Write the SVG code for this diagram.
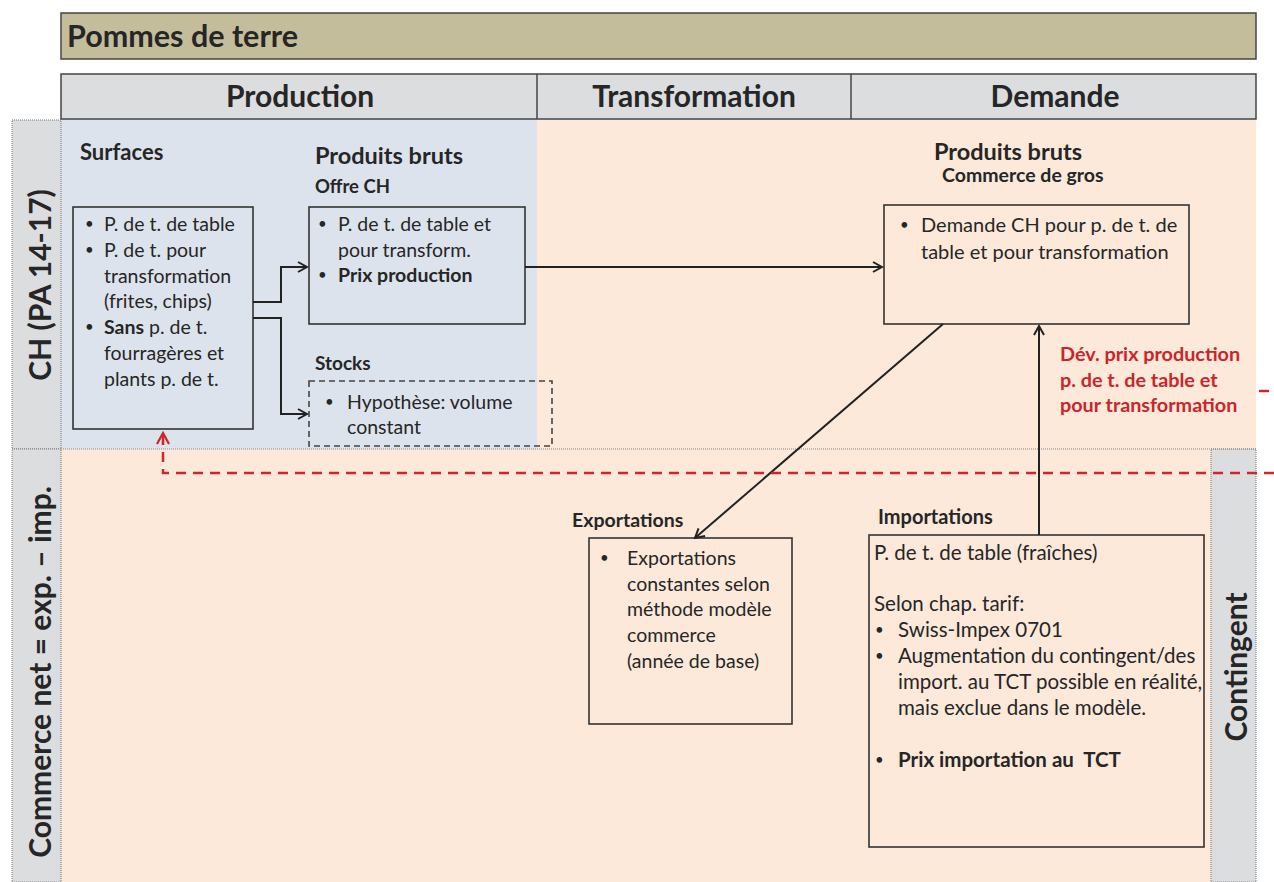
<svg xmlns="http://www.w3.org/2000/svg" width="1274" height="882" viewBox="0 0 1274 882">
  <defs>
    <marker id="arr" markerWidth="12" markerHeight="12" refX="10" refY="6" orient="auto" markerUnits="userSpaceOnUse">
      <path d="M1,1 L10,6 L1,11" fill="none" stroke="#222" stroke-width="2"/>
    </marker>
    <marker id="arrRed" markerWidth="14" markerHeight="14" refX="12" refY="7" orient="auto" markerUnits="userSpaceOnUse">
      <path d="M1,1 L12,7 L1,13" fill="none" stroke="#d0252b" stroke-width="2.2"/>
    </marker>
    <style>
      text { font-family: Lato, "Liberation Sans", sans-serif; fill: #262626; }
      .h1 { font-size: 30.5px; font-weight: bold; }
      .hd { font-size: 30px; font-weight: bold; text-anchor: middle; }
      .side { font-size: 30px; font-weight: bold; text-anchor: middle; }
      .lbl { font-size: 22px; font-weight: bold; }
      .sub { font-size: 19.5px; font-weight: bold; }
      .t { font-size: 19.5px; }
      .b { font-weight: bold; }
      .bu { font-size: 15px; }
      .red { fill: #c8262c; font-size: 19.8px; font-weight: bold; }
      .box { fill: none; stroke: #333; stroke-width: 1.6; }
      .dbox { fill: none; stroke: #444; stroke-width: 1.6; stroke-dasharray: 6 4; }
      .band { fill: #dcdddf; stroke: #777; stroke-width: 1; stroke-dasharray: 1 1; }
      .con { fill: none; stroke: #222; stroke-width: 2; }
      .rcon { fill: none; stroke: #d0252b; stroke-width: 2.5; stroke-dasharray: 10 7; }
    </style>
  </defs>

  <rect width="1274" height="882" fill="#ffffff"/>

  <!-- background regions -->
  <rect x="61" y="119" width="476" height="330" fill="#dde3ec"/>
  <rect x="537" y="119" width="719" height="330" fill="#fce9da"/>
  <rect x="61" y="449" width="1150" height="433" fill="#fce9da"/>

  <!-- side bands -->
  <g id="band-ch">
    <rect class="band" x="12" y="120" width="49" height="329"/>
    <text class="side" transform="translate(51,285) rotate(-90)">CH (PA 14-17)</text>
  </g>
  <g id="band-commerce">
    <rect class="band" x="12" y="449" width="49" height="433"/>
    <text class="side" transform="translate(51,672) rotate(-90)">Commerce net = exp. – imp.</text>
  </g>
  <g id="band-contingent">
    <rect class="band" x="1211" y="449" width="45" height="433"/>
    <text class="side" transform="translate(1247,667) rotate(-90)">Contingent</text>
  </g>
  <line x1="61" y1="449" x2="1256" y2="449" stroke="#888" stroke-width="1" stroke-dasharray="1 1"/>

  <!-- title -->
  <g id="title">
    <rect x="61" y="13" width="1195" height="46" fill="#c4bd9b" stroke="#444" stroke-width="1.5"/>
    <text class="h1" x="67" y="47">Pommes de terre</text>
  </g>

  <!-- column headers -->
  <g id="headers">
    <rect x="61" y="74" width="1195" height="45" fill="#dcdddf" stroke="#444" stroke-width="1.5"/>
    <line x1="537" y1="74" x2="537" y2="119" stroke="#444" stroke-width="1.5"/>
    <line x1="851" y1="74" x2="851" y2="119" stroke="#444" stroke-width="1.5"/>
    <text class="hd" x="300" y="107">Production</text>
    <text class="hd" x="694" y="107">Transformation</text>
    <text class="hd" x="1055" y="107">Demande</text>
  </g>

  <!-- Surfaces -->
  <g id="surfaces">
    <text class="lbl" x="80" y="160">Surfaces</text>
    <rect class="box" x="73" y="207" width="180" height="222"/>
    <g class="t">
      <text class="bu" x="85" y="229">•</text><text x="104" y="231">P. de t. de table</text>
      <text class="bu" x="85" y="255">•</text><text x="104" y="257">P. de t. pour</text>
      <text x="104" y="283">transformation</text>
      <text x="104" y="308">(frites, chips)</text>
      <text class="bu" x="85" y="332">•</text><text x="104" y="334"><tspan class="b">Sans</tspan> p. de t.</text>
      <text x="104" y="360">fourragères et</text>
      <text x="104" y="386">plants p. de t.</text>
    </g>
  </g>

  <!-- Offre CH -->
  <g id="offre-ch">
    <text class="lbl" x="315" y="164" style="font-size:23.5px">Produits bruts</text>
    <text class="sub" x="315" y="193" style="font-size:18.5px">Offre CH</text>
    <rect class="box" x="309" y="207" width="216" height="117"/>
    <g class="t">
      <text class="bu" x="318" y="229">•</text><text x="338" y="231">P. de t. de table et</text>
      <text x="338" y="257">pour transform.</text>
      <text class="bu" x="318" y="280">•</text><text x="338" y="282" class="b">Prix production</text>
    </g>
  </g>

  <!-- Stocks -->
  <g id="stocks">
    <text class="lbl" x="315" y="370" style="font-size:19px">Stocks</text>
    <rect class="dbox" x="309" y="381" width="243" height="65"/>
    <g class="t">
      <text class="bu" x="325" y="407">•</text><text x="347" y="409">Hypothèse: volume</text>
      <text x="347" y="434">constant</text>
    </g>
  </g>

  <!-- Demande CH -->
  <g id="demande">
    <text class="lbl" x="934" y="160" style="font-size:23.5px">Produits bruts</text>
    <text class="sub" x="942" y="182">Commerce de gros</text>
    <rect class="box" x="884" y="205" width="305" height="119"/>
    <g class="t" style="font-size:20px">
      <text class="bu" x="900" y="230">•</text><text x="921" y="232">Demande CH pour p. de t. de</text>
      <text x="921" y="259">table et pour transformation</text>
    </g>
  </g>

  <!-- Exportations -->
  <g id="exportations">
    <text class="sub" x="572" y="527">Exportations</text>
    <rect class="box" x="589" y="538" width="203" height="186"/>
    <g class="t">
      <text class="bu" x="600" y="563">•</text><text x="627" y="565">Exportations</text>
      <text x="627" y="591">constantes selon</text>
      <text x="627" y="616">méthode modèle</text>
      <text x="627" y="642">commerce</text>
      <text x="627" y="668">(année de base)</text>
    </g>
  </g>

  <!-- Importations -->
  <g id="importations">
    <text class="sub" x="878" y="524" style="font-size:20px">Importations</text>
    <rect class="box" x="869" y="535" width="335" height="312"/>
    <g class="t" style="font-size:20.5px">
      <text x="874" y="560">P. de t. de table (fraîches)</text>
      <text x="874" y="611">Selon chap. tarif:</text>
      <text class="bu" x="875" y="635">•</text><text x="898" y="637">Swiss-Impex 0701</text>
      <text class="bu" x="875" y="661">•</text><text x="898" y="663">Augmentation du contingent/des</text>
      <text x="898" y="689">import. au TCT possible en réalité,</text>
      <text x="898" y="715">mais exclue dans le modèle.</text>
      <text class="bu" x="875" y="765">•</text><text x="898" y="767" class="b" style="white-space:pre">Prix importation au  TCT</text>
    </g>
  </g>

  <!-- price development note -->
  <g id="note-prix">
    <text class="red" x="1060" y="361">Dév. prix production</text>
    <text class="red" x="1060" y="387">p. de t. de table et</text>
    <text class="red" x="1060" y="412">pour transformation</text>
  </g>

  <!-- connectors -->
  <g id="connectors">
    <polyline class="con" points="253,302 281,302 281,267 307,267" marker-end="url(#arr)"/>
    <polyline class="con" points="253,318 281,318 281,414 307,414" marker-end="url(#arr)"/>
    <line class="con" x1="525" y1="267" x2="882" y2="267" marker-end="url(#arr)"/>
    <line class="con" x1="943" y1="324" x2="695" y2="538" marker-end="url(#arr)"/>
    <line class="con" x1="1039" y1="535" x2="1039" y2="326" marker-end="url(#arr)"/>
    <line class="rcon" x1="1259" y1="391" x2="1274" y2="391"/>
    <polyline class="rcon" points="1274,473 163,473 163,433" marker-end="url(#arrRed)"/>
  </g>
</svg>
